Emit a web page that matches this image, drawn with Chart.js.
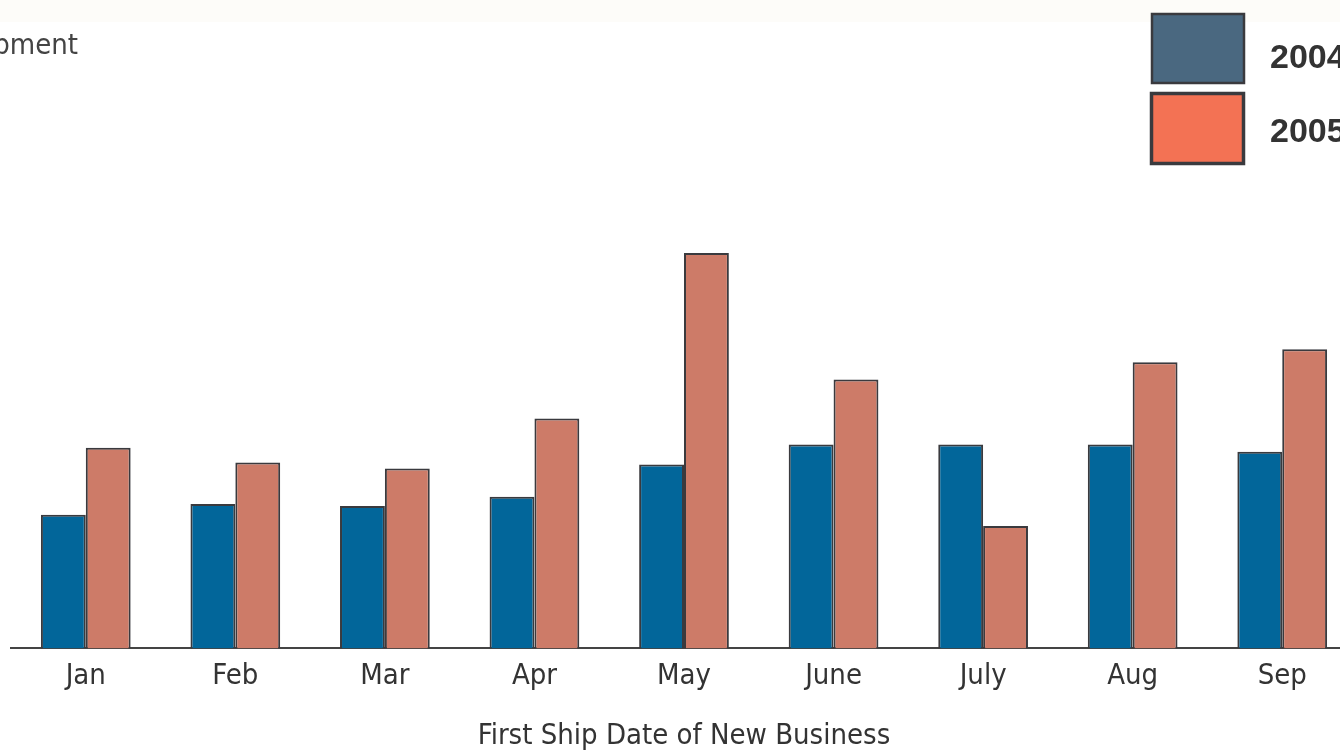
<!DOCTYPE html>
<html>
<head>
<meta charset="utf-8">
<script src="https://cdn.jsdelivr.net/npm/chart.js@4.4.1/dist/chart.umd.min.js"></script>
<style>
  body { margin: 0; background: #fff; overflow: hidden; }
  #wrap { position: relative; width: 1340px; height: 751px; overflow: hidden; }
  #band { position: absolute; left: 0; top: 0; width: 1340px; height: 22px; background: #fdfcf9; }
  #ship { position: absolute; left: 0; top: 0; }
</style>
</head>
<body>
<div id="wrap">
  <div id="band"></div>
  <canvas id="ship" width="1360" height="751"></canvas>
</div>
<script>
var months = ['Jan', 'Feb', 'Mar', 'Apr', 'May', 'June', 'July', 'Aug', 'Sep'];
var ship2004 = [33.3, 36.0, 35.5, 37.8, 45.8, 50.8, 50.8, 50.8, 49.0];
var ship2005 = [50.0, 46.3, 44.8, 57.3, 98.5, 67.0, 30.5, 71.3, 74.5];
var seriesNames = ['2004', '2005'];
var legendFill = ['#4a6880', '#f37254'];
var chartTitle = 'Shipment';
var textFont = '"DejaVu Sans Condensed", "DejaVu Sans", sans-serif';

// legend boxes + title drawn by hand, they sit over the plot
var overlayPlugin = {
  id: 'overlay',
  afterDraw: function(chart) {
    var ctx = chart.ctx;
    ctx.save();
    ctx.fillStyle = '#444';
    ctx.font = '29px ' + textFont;
    ctx.textAlign = 'right';
    ctx.textBaseline = 'alphabetic';
    ctx.fillText(chartTitle, 78, 54);

    var boxes = [[1152, 14, 92, 69, 2.5], [1151.5, 93.5, 92, 70, 3.5]];
    var textBase = [68, 142];
    for (var i = 0; i < seriesNames.length; i++) {
      var b = boxes[i];
      ctx.fillStyle = legendFill[i];
      ctx.fillRect(b[0], b[1], b[2], b[3]);
      ctx.strokeStyle = '#3a3a3e';
      ctx.lineWidth = b[4];
      ctx.strokeRect(b[0], b[1], b[2], b[3]);
      ctx.fillStyle = '#333';
      ctx.font = 'bold 34px "Liberation Sans"';
      ctx.textAlign = 'left';
      ctx.fillText(seriesNames[i], 1270, textBase[i]);
    }
    ctx.restore();
  }
};

var ctx = document.getElementById('ship');
var chart = new Chart(ctx, {
  type: 'bar',
  data: {
    labels: months,
    datasets: [
      {
        label: seriesNames[0],
        data: ship2004,
        backgroundColor: '#02669a',
        borderColor: '#3a3a3e',
        borderWidth: 2
      },
      {
        label: seriesNames[1],
        data: ship2005,
        backgroundColor: '#cd7b68',
        borderColor: '#3a3a3e',
        borderWidth: 2
      }
    ]
  },
  options: {
    responsive: false,
    animation: false,
    devicePixelRatio: 1,
    layout: { padding: { left: 11, right: 3, top: 247, bottom: -3 } },
    plugins: {
      legend: { display: false },
      tooltip: { enabled: false },
      title: { display: false }
    },
    datasets: { bar: { categoryPercentage: 0.6, barPercentage: 1.0 } },
    scales: {
      x: {
        grid: { display: false, drawTicks: false },
        border: { display: true, color: '#444', width: 2 },
        ticks: { color: '#333', padding: 11, font: { family: textFont, size: 29 } },
        title: {
          display: true,
          text: 'First Ship Date of New Business',
          color: '#333',
          padding: { top: 14, bottom: 0 },
          font: { family: textFont, size: 29 }
        }
      },
      y: {
        display: false,
        min: 0,
        max: 100
      }
    }
  },
  plugins: [overlayPlugin]
});
</script>
</body>
</html>
